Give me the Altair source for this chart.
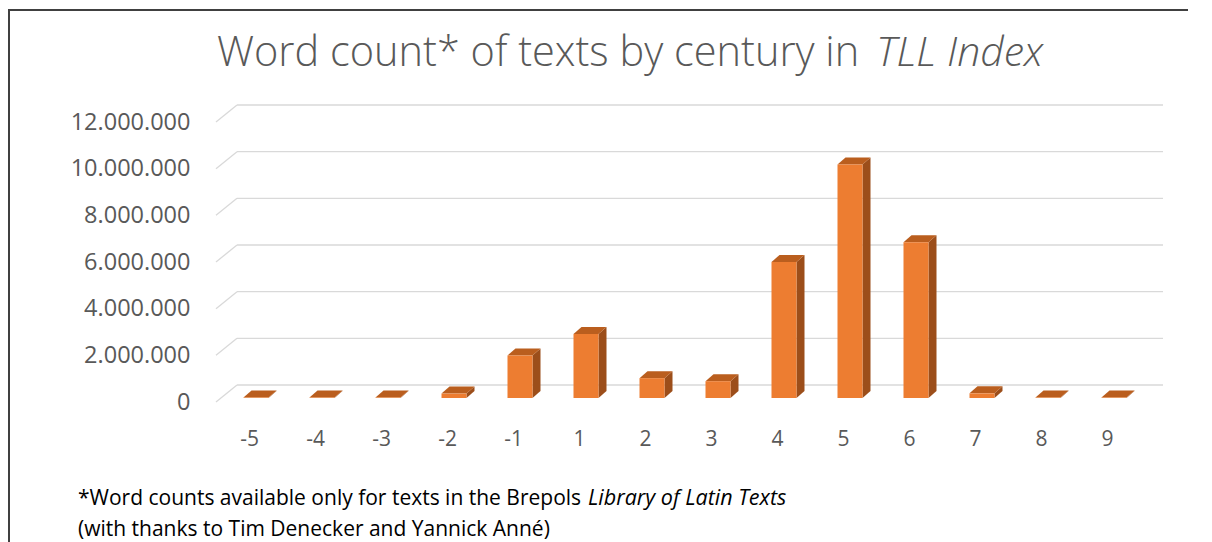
import altair as alt
import pandas as pd

# ---------------- data ----------------
centuries = ["-5", "-4", "-3", "-2", "-1", "1", "2", "3", "4", "5", "6", "7", "8", "9"]
word_counts = [20000, 20000, 20000, 190000, 1820000, 2740000, 850000, 720000,
               5830000, 10010000, 6680000, 200000, 20000, 20000]
y_ticks = [0, 2000000, 4000000, 6000000, 8000000, 10000000, 12000000]

title_main = "Word count* of texts by century in"
title_ital = "TLL Index"
note1_main = "*Word counts available only for texts in the Brepols"
note1_ital = "Library of Latin Texts"
note2 = "(with thanks to Tim Denecker and Yannick Anné)"

# ---------------- style / layout ----------------
FRONT = "#ED7D31"
TOP = "#BA5E1E"
SIDE = "#9C4E1A"
GRID = "#D9D9D9"
TXT = "#595959"
FONT = "Open Sans"

W, H = 924, 280
PAD_L, PAD_T, PAD_R, PAD_B = 208, 114, 48, 140
YMAX = 12000000
n = len(centuries)
px_x = W / n
px_y = H / YMAX

BAR_W = 25
half = BAR_W / 2 / px_x
DDX = 8 / px_x          # depth of bar (x, data units)
DDY = 7 / px_y          # depth of bar (y, data units)
BX, BY = 7, -4          # bar set-back from front plane (px)
WX, WY = 21, -17        # back wall offset (px)

xscale = alt.Scale(domain=[-0.5, n - 0.5], nice=False, zero=False)
yscale = alt.Scale(domain=[0, YMAX], nice=False, zero=False)

bars = pd.DataFrame({
    "i": list(range(n)),
    "century": centuries,
    "v": word_counts,
})
bars["xl"] = bars["i"] - half
bars["xr"] = bars["i"] + half
bars["zero"] = 0

side_rows, top_rows = [], []
for i, v in zip(bars["i"], bars["v"]):
    side_rows.append({"i": i, "x": i + half, "y": v, "y2": 0})
    side_rows.append({"i": i, "x": i + half + DDX, "y": v + DDY, "y2": DDY})
    top_rows.append({"i": i, "y": v, "x": i - half, "x2": i + half})
    top_rows.append({"i": i, "y": v + DDY, "x": i - half + DDX, "x2": i + half + DDX})
side_df = pd.DataFrame(side_rows)
top_df = pd.DataFrame(top_rows)
ticks_df = pd.DataFrame({"v": y_ticks})

label_expr = "[" + ",".join("'%s'" % c for c in centuries) + "][datum.value]"

x_axis = alt.Axis(values=list(range(n)), labelExpr=label_expr, title=None, ticks=False,
                  domain=False, grid=False, labelFontSize=21, labelFont=FONT,
                  labelColor=TXT, labelPadding=26)
y_axis = alt.Axis(values=y_ticks,
                  labelExpr="replace(replace(format(datum.value, ','), ',', '.'), ',', '.')",
                  title=None, ticks=False, domain=False, grid=False, labelFontSize=23.5,
                  labelFont=FONT, labelColor=TXT, labelPadding=26)

base = alt.Chart(bars)

# axes carrier (invisible)
axes = base.mark_point(opacity=0).encode(
    x=alt.X("i:Q", scale=xscale, axis=x_axis),
    y=alt.Y("zero:Q", scale=yscale, axis=y_axis),
)

wall = alt.Chart(ticks_df).mark_rule(color=GRID, strokeWidth=1.3, yOffset=WY).encode(
    x=alt.value(WX), x2=alt.value(W + 23), y=alt.Y("v:Q", scale=yscale)
)
diag = alt.Chart(ticks_df).mark_rule(color=GRID, strokeWidth=1.3, y2Offset=WY).encode(
    x=alt.value(0), x2=alt.value(WX), y=alt.Y("v:Q", scale=yscale), y2="v:Q"
)

side = alt.Chart(side_df).mark_area(orient="vertical", color=SIDE, xOffset=BX,
                                    yOffset=BY, y2Offset=BY).encode(
    x=alt.X("x:Q", scale=xscale),
    y=alt.Y("y:Q", scale=yscale),
    y2="y2:Q",
    detail="i:N",
)
top = alt.Chart(top_df).mark_area(orient="horizontal", color=TOP, xOffset=BX,
                                  x2Offset=BX, yOffset=BY).encode(
    y=alt.Y("y:Q", scale=yscale),
    x=alt.X("x:Q", scale=xscale),
    x2="x2:Q",
    detail="i:N",
)
front = base.mark_rect(color=FRONT, xOffset=BX, x2Offset=BX, yOffset=BY, y2Offset=BY).encode(
    x=alt.X("xl:Q", scale=xscale),
    x2="xr:Q",
    y=alt.Y("v:Q", scale=yscale),
    y2="zero:Q",
)


def text_layer(txt, x, y, size, color, italic=False, align="left", weight="normal"):
    return alt.Chart(pd.DataFrame({"t": [txt]})).mark_text(
        align=align, baseline="alphabetic", font=FONT, fontSize=size, color=color,
        fontStyle="italic" if italic else "normal", fontWeight=weight,
    ).encode(text="t:N", x=alt.value(x), y=alt.value(y))


# page coords -> plot coords: x - 216, y - 122
t1 = text_layer(title_main, 217 - 216, 66 - 122, 41.5, TXT, weight=300)
t2 = text_layer(title_ital, 1043 - 216, 66 - 122, 41, TXT, italic=True, align="right", weight=300)
f1 = text_layer(note1_main, 78 - 216, 505 - 122, 21, "#000000")
f2 = text_layer(note1_ital, 588 - 216, 505 - 122, 21.5, "#000000", italic=True)
f3 = text_layer(note2, 78 - 216, 536 - 122, 21, "#000000")

border_df = pd.DataFrame({"k": [0]})
top_border = alt.Chart(border_df).mark_rule(color="#404040", strokeWidth=2).encode(
    x=alt.value(-PAD_L), x2=alt.value(W + PAD_R), y=alt.value(10 - 122)
)
left_border = alt.Chart(border_df).mark_rule(color="#404040", strokeWidth=2).encode(
    x=alt.value(9 - 216), y=alt.value(10 - 122), y2=alt.value(H + PAD_B)
)

chart = alt.layer(
    axes, wall, diag, side, top, front, t1, t2, f1, f2, f3, top_border, left_border
).properties(
    width=W, height=H,
    autosize=alt.AutoSizeParams(type="none"),
    padding={"left": PAD_L, "top": PAD_T, "right": PAD_R, "bottom": PAD_B},
    background="white",
).configure_view(stroke=None)

chart.save("out.html", embed_options={"renderer": "svg", "actions": False})
